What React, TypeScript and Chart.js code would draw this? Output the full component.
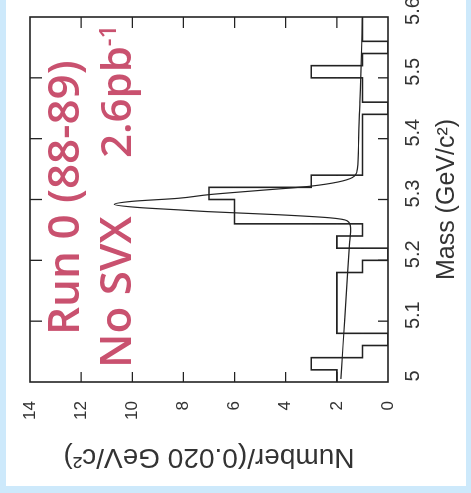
import React, { useEffect, useRef } from "react";
import { Chart, registerables } from "chart.js";

Chart.register(...registerables);

// ---- data ----
const binLowEdges = [
  5.0, 5.02, 5.04, 5.06, 5.08, 5.1, 5.12, 5.14, 5.16, 5.18,
  5.2, 5.22, 5.24, 5.26, 5.28, 5.3, 5.32, 5.34, 5.36, 5.38,
  5.4, 5.42, 5.44, 5.46, 5.48, 5.5, 5.52, 5.54, 5.56, 5.58,
];
const binUpperEnd = 5.6;
const binCounts = [
  2, 3, 1, 0, 2, 2, 2, 2, 2, 1,
  0, 2, 1, 6, 6, 7, 3, 1, 1, 1,
  1, 1, 0, 1, 1, 3, 1, 0, 1, 1,
];

const fitMass = [
  5.005, 5.06, 5.12, 5.18, 5.23, 5.253, 5.265, 5.27, 5.275, 5.28,
  5.283, 5.287, 5.292, 5.297, 5.302, 5.308, 5.315, 5.322, 5.336, 5.35,
  5.4, 5.46, 5.52, 5.598,
];
const fitCount = [
  1.84, 1.76, 1.67, 1.58, 1.5, 1.46, 1.6, 2.3, 4.3, 7.0,
  8.2, 9.8, 10.7, 10.0, 8.2, 7.0, 5.0, 3.0, 1.4, 1.2,
  1.15, 1.1, 1.05, 1.0,
];

const massTicks = [5, 5.1, 5.2, 5.3, 5.4, 5.5, 5.6];
const massTickLabels = ["5", "5.1", "5.2", "5.3", "5.4", "5.5", "5.6"];
const countTicks = [0, 2, 4, 6, 8, 10, 12, 14];
const countTickLabels = ["0", "2", "4", "6", "8", "10", "12", "14"];
const innerMassTicks = [5.1, 5.2, 5.3, 5.4, 5.5];
const innerCountTicks = [2, 4, 6, 8, 10, 12];

const massTitle = "Mass (GeV/c²)";
const countTitle = "Number/(0.020 GeV/c²)";
const noteLine1 = "Run 0 (88-89)";
const noteLine2a = "No SVX";
const noteLine2b = "2.6pb";
const noteSup = "-1";

// ---- layout (unrotated canvas) ----
const CW = 486;
const CH = 460;
const AXIS_FONT = "'Liberation Sans', Arial, sans-serif";
const NOTE_FONT = "'Open Sans', sans-serif";
const INK = "#222";
const LABEL = "#333";
const PINK = "#c9516f";

const zeroPadding = (s: any) => {
  s.paddingTop = 0;
  s.paddingBottom = 0;
  s.paddingLeft = 0;
  s.paddingRight = 0;
};

const framePlugin = {
  id: "frameAndNotes",
  afterDatasetsDraw(chart: any) {
    const { ctx, chartArea, scales } = chart;
    const { left, right, top, bottom } = chartArea;
    ctx.save();
    ctx.strokeStyle = INK;
    ctx.lineWidth = 1.6;
    ctx.strokeRect(left, top, right - left, bottom - top);
    ctx.lineWidth = 1.3;
    ctx.beginPath();
    innerMassTicks.forEach((m) => {
      const px = scales.x.getPixelForValue(m);
      ctx.moveTo(px, bottom);
      ctx.lineTo(px, bottom - 10);
      ctx.moveTo(px, top);
      ctx.lineTo(px, top + 12);
    });
    innerCountTicks.forEach((c) => {
      const py = scales.y.getPixelForValue(c);
      ctx.moveTo(left, py);
      ctx.lineTo(left + 10, py);
      ctx.moveTo(right, py);
      ctx.lineTo(right - 11, py);
    });
    ctx.stroke();

    ctx.fillStyle = PINK;
    ctx.textAlign = "left";
    ctx.textBaseline = "alphabetic";
    ctx.font = `600 44px ${NOTE_FONT}`;
    ctx.fillText(noteLine1, 151, 73);
    ctx.fillText(noteLine2a, 118, 125);
    ctx.font = `600 42px ${NOTE_FONT}`;
    ctx.fillText(noteLine2b, 328, 125);
    const w = ctx.measureText(noteLine2b).width;
    ctx.font = `600 24px ${NOTE_FONT}`;
    ctx.fillText(noteSup, 328 + w, 110);
    ctx.restore();
  },
};

export default function App() {
  const ref = useRef<HTMLCanvasElement>(null);

  useEffect(() => {
    const canvas = ref.current;
    if (!canvas) return;
    const histData = binLowEdges
      .map((x, i) => ({ x, y: binCounts[i] }))
      .concat([{ x: binUpperEnd, y: binCounts[binCounts.length - 1] }]);
    const fitData = fitMass.map((x, i) => ({ x, y: fitCount[i] }));

    const chart = new Chart(canvas, {
      type: "line",
      data: {
        datasets: [
          {
            label: "data",
            data: histData,
            stepped: "before",
            borderColor: INK,
            borderWidth: 1.6,
            pointRadius: 0,
            fill: false,
          },
          {
            label: "fit",
            data: fitData,
            borderColor: INK,
            borderWidth: 1.2,
            pointRadius: 0,
            fill: false,
            cubicInterpolationMode: "monotone",
          },
        ],
      } as any,
      options: {
        responsive: false,
        maintainAspectRatio: false,
        animation: false,
        layout: { padding: { top: 24, right: 17, left: 0, bottom: 0 } },
        plugins: {
          legend: { display: false },
          tooltip: { enabled: false },
        },
        scales: {
          x: {
            type: "linear",
            position: "bottom",
            min: 5,
            max: 5.6,
            afterBuildTicks: (s: any) => {
              s.ticks = massTicks.map((v) => ({ value: v }));
            },
            afterFit: (s: any) => {
              s.height = 78;
              zeroPadding(s);
            },
            grid: { display: false, drawTicks: false },
            border: { display: false },
            ticks: {
              autoSkip: false,
              maxRotation: 0,
              padding: 13,
              labelOffset: 6,
              color: LABEL,
              font: { family: AXIS_FONT, size: 20 },
              callback: (_v: any, i: number) => massTickLabels[i],
            },
            title: {
              display: true,
              text: massTitle,
              color: LABEL,
              font: { family: AXIS_FONT, size: 25 },
              padding: { top: 0, bottom: 4 },
            },
          },
          y: {
            type: "linear",
            position: "left",
            min: 0,
            max: 14,
            afterBuildTicks: (s: any) => {
              s.ticks = countTicks.map((v) => ({ value: v }));
            },
            afterFit: (s: any) => {
              s.width = 104;
              zeroPadding(s);
            },
            grid: { display: false, drawTicks: false },
            border: { display: false },
            ticks: {
              autoSkip: false,
              padding: 19,
              color: LABEL,
              font: { family: AXIS_FONT, size: 17 },
              callback: (_v: any, i: number) => countTickLabels[i],
            },
            title: {
              display: true,
              text: countTitle,
              color: LABEL,
              font: { family: AXIS_FONT, size: 28 },
              padding: { top: 12, bottom: 0 },
            },
          },
        },
      } as any,
      plugins: [framePlugin],
    });
    return () => chart.destroy();
  }, []);

  return (
    <div
      style={{
        position: "fixed",
        left: 0,
        top: 0,
        width: 471,
        height: 493,
        background: "#cde9fb",
        overflow: "hidden",
      }}
    >
      <div
        style={{
          position: "absolute",
          left: 6,
          top: 0,
          width: 460,
          height: 486,
          background: "#ffffff",
          overflow: "hidden",
        }}
      >
        <div
          style={{
            position: "absolute",
            left: 0,
            top: 0,
            width: CW,
            height: CH,
            transformOrigin: "0 0",
            transform: `translate(0px, ${CW}px) rotate(-90deg)`,
          }}
        >
          <canvas
            ref={ref}
            width={CW}
            height={CH}
            style={{ width: CW, height: CH, display: "block" }}
          />
        </div>
      </div>
    </div>
  );
}
